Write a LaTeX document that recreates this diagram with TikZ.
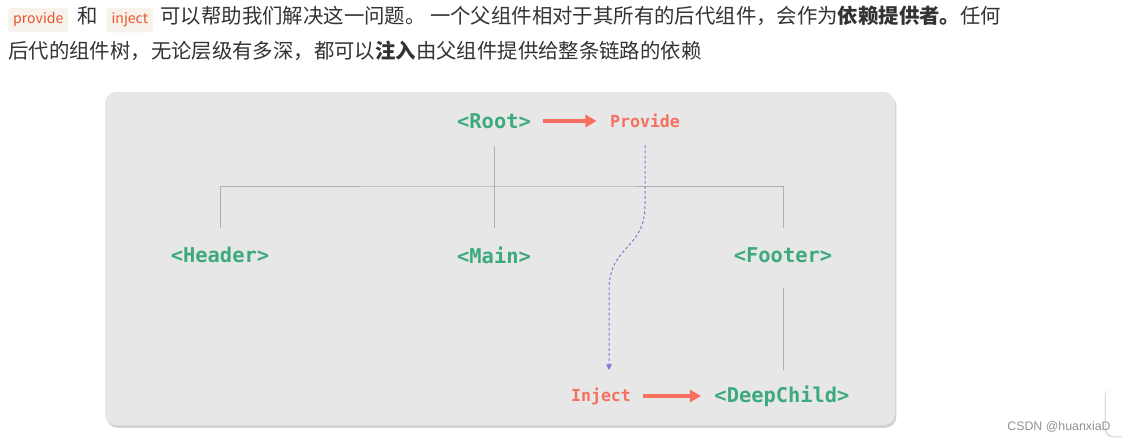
\documentclass[tikz,border=0pt]{standalone}
\usepackage{fontspec}
\usepackage{xcolor}
\usetikzlibrary{positioning, arrows.meta, shadows}
\newfontfamily\cjk{Noto Sans CJK SC}
\newfontfamily\codefont{DejaVu Sans Mono}
\newfontfamily\markfont{Liberation Sans}
\definecolor{vuegreen}{HTML}{3DAA7D}
\definecolor{keyred}{HTML}{F7705F}
\definecolor{deppurple}{HTML}{8D72D6}
\definecolor{linegray}{HTML}{B0B0B0}
\definecolor{panelgray}{HTML}{E7E7E7}
\definecolor{bodytext}{HTML}{333333}
\definecolor{tagbg}{HTML}{F7F2EC}
\definecolor{tagfg}{HTML}{E8542A}

\begin{document}
\begin{tikzpicture}[x=0.025cm, y=-0.025cm, auto, node distance=4cm, >={Latex},
  comp/.style={text=vuegreen, font=\codefont\bfseries\fontsize{14.5}{16}\selectfont},
  key/.style={text=keyred, font=\codefont\bfseries\fontsize{11.8}{14}\selectfont},
  body/.style={text=bodytext, inner sep=0pt, font=\cjk\fontsize{14.5}{17}\selectfont},
  tag/.style={fill=tagbg, text=tagfg, rounded corners=2pt, inner xsep=3.5pt, inner ysep=3.5pt,
    font=\cjk\fontsize{10}{12}\selectfont},
  tree/.style={draw=linegray, line width=0.65pt},
  flow/.style={draw=keyred, line width=2.3pt, -{Triangle[length=8pt,width=8.5pt]},
    shorten <=5pt, shorten >=6pt},
  dep/.style={draw=deppurple, line width=0.7pt, dash pattern=on 2pt off 1.6pt,
    -{Triangle[length=4pt,width=4pt]}}]
  \useasboundingbox[fill=white] (0,0) rectangle (1122,442);

  % Define text
  \node[tag, anchor=west] (tagprov) at (8,20) {provide};
  \node[body, base right=6pt of tagprov] (he) {和};
  \node[tag, base right=6pt of he] (taginj) {inject};
  \node[body, base right=5pt of taginj] (line1)
    {可以帮助我们解决这一问题。 一个父组件相对于其所有的后代组件，会作为{\bfseries 依赖提供者。}任何};
  \node[body, anchor=base west] (line2) at (8,58)
    {后代的组件树，无论层级有多深，都可以{\bfseries 注入}由父组件提供给整条链路的依赖};

  % Define panel
  \fill[panelgray, rounded corners=8pt,
    drop shadow={opacity=0.35, shadow xshift=1pt, shadow yshift=-2pt}] (105,92) rectangle (895,425);

  % Define blocks
  \node[comp] (root) at (494,121) {<Root>};
  \node[key] (provide) at (645,121) {Provide};
  \node[comp] (header) at (220,255) {<Header>};
  \node[comp] (main) at (494,255) {<Main>};
  \node[comp] (footer) at (783,255) {<Footer>};
  \node[comp] (deepchild) at (782,396) {<DeepChild>};
  \node[key] (inject) at (601,396) {Inject};
  \coordinate (bar) at (494,186);
  \coordinate (bend1) at (645,205);
  \coordinate (bend2) at (609,290);
  \coordinate (injpt) at (609,370);

  % Connect blocks
  \draw[tree, shorten <=17.8pt, shorten >=19.2pt] (root.center) -- (main.center);
  \draw[tree] ([yshift=19.2pt]header.center) |- (bar) -| ([yshift=19.2pt]footer.center);
  \draw[tree, shorten <=23.5pt, shorten >=18.5pt] (footer.center) -- (footer.center |- deepchild.center);
  \draw[flow] (root) -- (provide);
  \draw[flow] (inject) -- (deepchild);
  \draw[dep] ([yshift=-9pt]provide.south) -- (bend1) .. controls +(0,45) and +(0,-45) .. (bend2) -- (injpt);

  % Watermark
  \fill[white, rounded corners=6pt, drop shadow={opacity=0.25, shadow xshift=-1pt, shadow yshift=-1pt}]
    (1106,386) rectangle (1140,436);
  \node[text=gray!85, font=\markfont\fontsize{8.8}{10}\selectfont] (mark) at (1059,427) {CSDN @huanxiaD};
\end{tikzpicture}
\end{document}
